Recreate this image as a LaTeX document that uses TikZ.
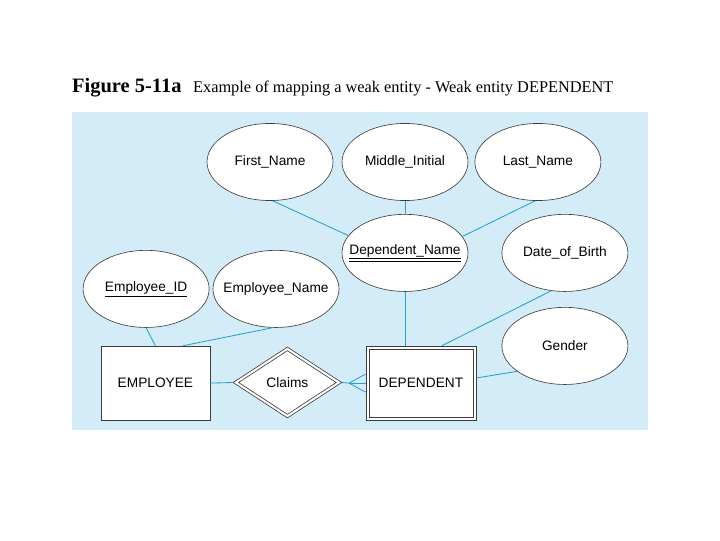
\documentclass[tikz,border=0pt]{standalone}
\usepackage{fontspec}
\setmainfont{Liberation Serif}
\newfontfamily\ersans{Liberation Sans}
\usepackage{xcolor}
\usepackage{tikz}
\usetikzlibrary{shapes,positioning,calc}
\definecolor{panel}{RGB}{212,236,248}
\definecolor{link}{RGB}{38,162,202}
\definecolor{edge}{RGB}{60,60,60}
\newcommand{\attrtext}[1]{\makebox[0pt][c]{#1}}

\begin{document}
\begin{tikzpicture}[
    attr/.style={ellipse,draw=edge,line width=0.6pt,fill=white,minimum width=4.2cm,minimum height=2.57cm,inner sep=0pt,font=\ersans\fontsize{13}{15}\selectfont},
    entity/.style={rectangle,draw=edge,line width=0.6pt,fill=white,minimum width=3.63cm,minimum height=2.47cm,inner sep=0pt,font=\ersans\fontsize{13}{15}\selectfont},
    link/.style={draw=link,line width=0.8pt}
  ]
    \useasboundingbox (0,0) rectangle (24,18);
    % Title
    \node[anchor=base west,inner sep=0pt,font=\bfseries\fontsize{19.4}{22}\selectfont] (fig) at (2.4,14.93) {Figure 5-11a};
    \node[anchor=base west,inner sep=0pt,font=\fontsize{15.5}{18}\selectfont] (cap) at (6.43,14.93) {Example of mapping a weak entity - Weak entity DEPENDENT};
    \fill[panel] (2.4,3.67) rectangle (21.6,14.27); % Panel

    % Attributes
    \node[attr] (fname) at (9.0,12.6) {\attrtext{First\_Name}};
    \node[attr] (mid) at (13.5,12.6) {\attrtext{Middle\_Initial}};
    \node[attr] (lname) at (17.93,12.6) {\attrtext{Last\_Name}};
    \node[attr] (dname) at (13.5,9.57) {\attrtext{\underline{\underline{Dependent\_Name}}}};
    \node[attr] (dob) at (18.83,9.57) {\attrtext{Date\_of\_Birth}};
    \node[attr] (gender) at (18.83,6.47) {\attrtext{Gender}};
    \node[attr] (eid) at (4.87,8.37) {\attrtext{\underline{Employee\_ID}}};
    \node[attr] (ename) at (9.2,8.37) {\attrtext{Employee\_Name}};

    % Entities
    \node[entity] (emp) at (5.18,5.23) {EMPLOYEE};
    \node[entity,minimum width=3.67cm] (dep) at (14.03,5.23) {DEPENDENT};
    \draw[edge,line width=0.6pt] ($(dep.south west)+(0.11,0.11)$) rectangle ($(dep.north east)-(0.11,0.11)$); % Weak entity
    \node[diamond,draw=edge,line width=0.6pt,fill=white,minimum width=3.63cm,minimum height=2.37cm,inner sep=0pt] (claims) at (9.58,5.25) {};
    \node[diamond,draw=edge,line width=0.6pt,minimum width=3.26cm,minimum height=2.13cm,inner sep=0pt,font=\ersans\fontsize{13}{15}\selectfont] (claimsin) at (claims) {Claims};
    \coordinate (fork) at ($(dep.west)+(-0.55,0)$);

    % Links
    \draw[link] (fname.274) -- (dname.163);
    \draw[link] (mid.south) -- (dname.north);
    \draw[link] (lname.266) -- (dname.16);
    \draw[link] (dname.south) -- (dname.south |- dep.north);
    \draw[link] (dob.250) -- ($(dep.north)+(0.7,0)$);
    \draw[link] (gender.208) -- ($(dep.east)+(0,0.17)$);
    \draw[link] (eid.south) -- (emp.north);
    \draw[link] (ename.265) -- ($(emp.north)+(0.92,0)$);
    \draw[link] (emp.east) -- (claims.west);
    \draw[link] (claims.east) -- (fork);
    \draw[link] (fork) -- ($(dep.west)+(0,0.3)$);
    \draw[link] (fork) -- (dep.west);
    \draw[link] (fork) -- ($(dep.west)+(0,-0.3)$);
\end{tikzpicture}
\end{document}
